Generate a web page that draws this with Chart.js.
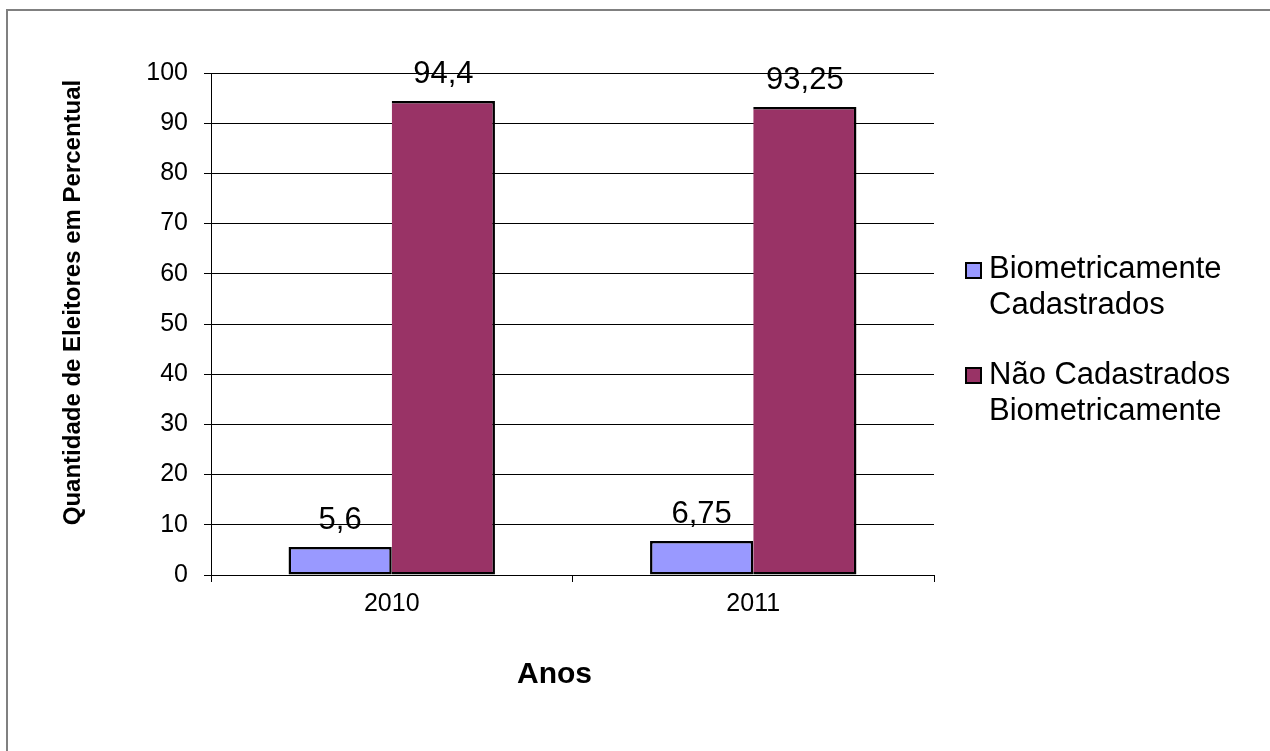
<!DOCTYPE html>
<html>
<head>
<meta charset="utf-8">
<script src="https://cdn.jsdelivr.net/npm/chart.js@4.4.0/dist/chart.umd.min.js"></script>
<style>
  html, body { margin: 0; padding: 0; background: #ffffff; }
  canvas { display: block; }
</style>
</head>
<body>
<canvas id="c" width="1270" height="751"></canvas>
<script>
// ---- Data ----
const categories = ['2010', '2011'];
const seriesNames = ['Biometricamente Cadastrados', 'Não Cadastrados Biometricamente'];
const biometricamenteCadastrados = [5.6, 6.75];
const naoCadastradosBiometricamente = [94.4, 93.25];
const yTickValues = [0, 10, 20, 30, 40, 50, 60, 70, 80, 90, 100];
const legendLines = [['Biometricamente', 'Cadastrados'], ['Não Cadastrados', 'Biometricamente']];
const xAxisTitle = 'Anos';
const yAxisTitle = 'Quantidade de Eleitores em Percentual';

const FONT = '"Liberation Sans", Arial, Helvetica, sans-serif';
const colors = ['#9999FF', '#993366'];

const fmt = v => String(v).replace('.', ',');

const decorPlugin = {
  id: 'decor',
  beforeDraw(chart) {
    const ctx = chart.ctx;
    ctx.save();
    ctx.fillStyle = '#ffffff';
    ctx.fillRect(0, 0, chart.width, chart.height);
    // outer chart border (left and top visible)
    ctx.strokeStyle = '#808080';
    ctx.lineWidth = 2;
    ctx.beginPath();
    ctx.moveTo(7, chart.height + 5);
    ctx.lineTo(7, 10);
    ctx.lineTo(chart.width + 5, 10);
    ctx.stroke();
    ctx.restore();
  },
  afterDatasetsDraw(chart) {
    const ctx = chart.ctx;
    ctx.save();
    ctx.fillStyle = '#000000';
    ctx.font = '31px ' + FONT;
    ctx.textAlign = 'center';
    ctx.textBaseline = 'alphabetic';
    chart.data.datasets.forEach((ds, di) => {
      const meta = chart.getDatasetMeta(di);
      meta.data.forEach((bar, i) => {
        ctx.fillText(fmt(ds.data[i]), bar.x, bar.y - 18);
      });
    });
    ctx.restore();
  },
  afterDraw(chart) {
    const ctx = chart.ctx;
    ctx.save();
    ctx.fillStyle = '#000000';
    // x axis title
    ctx.font = 'bold 30px ' + FONT;
    ctx.textAlign = 'center';
    ctx.textBaseline = 'alphabetic';
    ctx.fillText(xAxisTitle, 554.5, 683);
    // y axis title
    ctx.save();
    ctx.translate(79.5, 302.5);
    ctx.rotate(-Math.PI / 2);
    ctx.font = 'bold 24px ' + FONT;
    ctx.textAlign = 'center';
    ctx.textBaseline = 'alphabetic';
    ctx.fillText(yAxisTitle, 0, 0);
    ctx.restore();
    // legend
    const entries = [{ y: 262, base: 278 }, { y: 367, base: 384 }];
    ctx.font = '31px ' + FONT;
    ctx.textAlign = 'left';
    entries.forEach((e, i) => {
      ctx.fillStyle = colors[i];
      ctx.fillRect(965, e.y, 17, 17);
      ctx.strokeStyle = '#000000';
      ctx.lineWidth = 2;
      ctx.strokeRect(966, e.y + 1, 15, 15);
      ctx.fillStyle = '#000000';
      legendLines[i].forEach((line, li) => {
        ctx.fillText(line, 989, e.base + li * 35.5);
      });
    });
    ctx.restore();
  }
};

new Chart(document.getElementById('c'), {
  type: 'bar',
  data: {
    labels: categories,
    datasets: [
      {
        label: seriesNames[0],
        data: biometricamenteCadastrados,
        backgroundColor: colors[0],
        borderColor: '#000000',
        borderWidth: 2.5,
        borderSkipped: false,
        categoryPercentage: 0.571,
        barPercentage: 1.0
      },
      {
        label: seriesNames[1],
        data: naoCadastradosBiometricamente,
        backgroundColor: colors[1],
        borderColor: '#000000',
        borderWidth: 2.5,
        borderSkipped: 'left',
        categoryPercentage: 0.571,
        barPercentage: 1.0
      }
    ]
  },
  options: {
    responsive: false,
    animation: false,
    events: [],
    layout: { padding: { left: 0, top: 73, right: 336, bottom: 0 } },
    plugins: {
      legend: { display: false },
      tooltip: { enabled: false },
      title: { display: false }
    },
    scales: {
      x: {
        afterFit(scale) { scale.height = 176; },
        grid: {
          display: true,
          drawOnChartArea: false,
          drawTicks: true,
          tickLength: 7,
          color: '#000000',
          lineWidth: 1,
          offset: true
        },
        border: { display: true, color: '#000000', width: 1 },
        ticks: {
          color: '#000000',
          font: { family: FONT, size: 25 },
          padding: 7,
          maxRotation: 0
        },
        title: { display: false }
      },
      y: {
        min: 0,
        max: 100,
        afterFit(scale) { scale.width = 211; },
        afterBuildTicks(scale) { scale.ticks = yTickValues.map(v => ({ value: v })); },
        grid: {
          color: '#000000',
          lineWidth: 1,
          drawTicks: true,
          tickLength: 7
        },
        border: { display: true, color: '#000000', width: 1 },
        ticks: {
          color: '#000000',
          font: { family: FONT, size: 25 },
          padding: 16,
          callback: v => String(v)
        },
        title: { display: false }
      }
    }
  },
  plugins: [decorPlugin]
});
</script>
</body>
</html>
